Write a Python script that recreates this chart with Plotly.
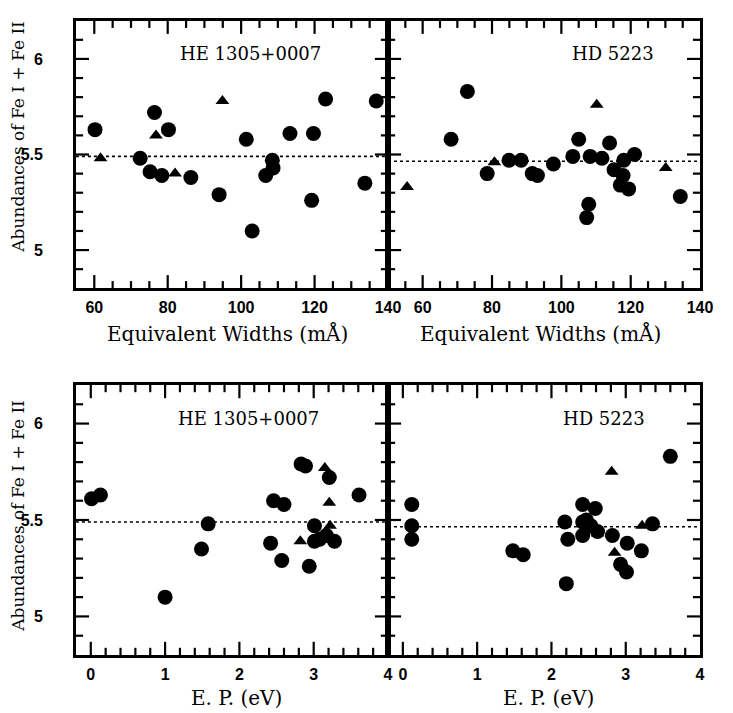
import numpy as np
import plotly.graph_objects as go

# ---------------- data ----------------
star_names = ["HE 1305+0007", "HD 5223"]
mean_abund = [5.49, 5.465]

he_ew_circ_x = [60.2, 72.5, 75.2, 76.4, 78.4, 80.2, 86.3, 94.0, 101.4, 103.0, 106.7, 108.5, 108.7, 113.3, 119.7, 119.2, 123.0, 133.7, 136.8]
he_ew_circ_y = [5.63, 5.48, 5.41, 5.72, 5.39, 5.63, 5.38, 5.29, 5.58, 5.10, 5.39, 5.47, 5.43, 5.61, 5.61, 5.26, 5.79, 5.35, 5.78]
he_ew_tri_x = [61.7, 76.8, 82.0, 94.9]
he_ew_tri_y = [5.48, 5.60, 5.40, 5.78]

hd_ew_circ_x = [68.2, 72.9, 78.6, 84.9, 88.4, 91.6, 93.1, 97.7, 103.3, 105.0, 107.3, 107.9, 108.3, 111.7, 113.9, 115.2, 118.0, 117.8, 117.0, 119.4, 121.1, 134.3]
hd_ew_circ_y = [5.58, 5.83, 5.40, 5.47, 5.47, 5.40, 5.39, 5.45, 5.49, 5.58, 5.17, 5.24, 5.49, 5.48, 5.56, 5.42, 5.47, 5.39, 5.34, 5.32, 5.50, 5.28]
hd_ew_tri_x = [55.5, 80.7, 110.2, 130.1]
hd_ew_tri_y = [5.33, 5.46, 5.76, 5.43]

he_ep_circ_x = [0.01, 0.13, 1.00, 1.49, 1.58, 2.42, 2.46, 2.57, 2.60, 2.83, 2.89, 2.94, 3.01, 3.01, 3.08, 3.21, 3.17, 3.28, 3.61]
he_ep_circ_y = [5.61, 5.63, 5.10, 5.35, 5.48, 5.38, 5.60, 5.29, 5.58, 5.79, 5.78, 5.26, 5.47, 5.39, 5.40, 5.72, 5.42, 5.39, 5.63]
he_ep_tri_x = [2.82, 3.15, 3.21, 3.22]
he_ep_tri_y = [5.39, 5.77, 5.59, 5.47]

hd_ep_circ_x = [0.12, 0.12, 0.12, 1.48, 1.62, 2.18, 2.22, 2.20, 2.42, 2.42, 2.47, 2.42, 2.59, 2.53, 2.62, 2.82, 3.02, 2.93, 3.01, 3.21, 3.36, 3.60]
hd_ep_circ_y = [5.58, 5.47, 5.40, 5.34, 5.32, 5.49, 5.40, 5.17, 5.58, 5.49, 5.50, 5.42, 5.56, 5.47, 5.44, 5.42, 5.38, 5.27, 5.23, 5.34, 5.48, 5.83]
hd_ep_tri_x = [2.62, 2.81, 2.85, 3.22]
hd_ep_tri_y = [5.43, 5.75, 5.33, 5.47]

ew_ticks = [60, 80, 100, 120, 140]
ep_ticks = [0, 1, 2, 3, 4]
y_ticks = [5, 5.5, 6]
ew_minor_step = 5
ep_minor_step = 0.2
y_minor_step = 0.1
ew_title = "Equivalent Widths (mÅ)"
ep_title = "E. P. (eV)"
y_title = "Abundances of Fe I + Fe II"

W, H = 733, 713
fig = go.Figure()


def px_x(p):
    return p / W


def px_y(p):
    return (H - p) / H


left_dom = [px_x(77.3), px_x(395)]
right_dom = [px_x(395), px_x(712.7)]
top_dom = [px_y(288.3), px_y(20.7)]
bot_dom = [px_y(655), px_y(385)]
y_range = [4.8, 6.2]

panels = [
    ("", [55, 140], ew_ticks, ew_minor_step, left_dom, top_dom, he_ew_tri_x, he_ew_tri_y, he_ew_circ_x, he_ew_circ_y, 0, True),
    ("2", [50, 140], ew_ticks, ew_minor_step, right_dom, top_dom, hd_ew_tri_x, hd_ew_tri_y, hd_ew_circ_x, hd_ew_circ_y, 1, False),
    ("3", [-0.2, 4], ep_ticks, ep_minor_step, left_dom, bot_dom, he_ep_tri_x, he_ep_tri_y, he_ep_circ_x, he_ep_circ_y, 0, True),
    ("4", [-0.2, 4], ep_ticks, ep_minor_step, right_dom, bot_dom, hd_ep_tri_x, hd_ep_tri_y, hd_ep_circ_x, hd_ep_circ_y, 1, False),
]

tickfont = dict(family="Liberation Sans", size=16, color="black", weight=700)
MAJ, MIN, TW = 11, 6, 2.2


def minor_vals(lo, hi, step, majors):
    vals = np.arange(np.ceil(lo / step - 1e-9) * step, hi + 1e-9, step)
    out = []
    for v in vals:
        v = round(float(v), 6)
        if v <= lo + 1e-9 or v >= hi - 1e-9:
            continue
        if any(abs(v - m) < 1e-6 for m in majors):
            continue
        out.append(v)
    return out


layout_axes = {}
for suf, xr, xt, xstep, xdom, ydom, tx, ty, cx, cy, si, ylab in panels:
    xa, ya = "x" + suf, "y" + suf
    pw = (xdom[1] - xdom[0]) * W
    ph = (ydom[1] - ydom[0]) * H
    xspan = xr[1] - xr[0]
    yspan = y_range[1] - y_range[0]

    # tick marks as line-shaped markers, positioned through the axes' own scales
    for vals, ln in [([v for v in xt if xr[0] < v < xr[1]], MAJ), (minor_vals(xr[0], xr[1], xstep, xt), MIN)]:
        half = ln / 2 / ph * yspan
        xs = vals + vals
        ys = [y_range[0] + half] * len(vals) + [y_range[1] - half] * len(vals)
        fig.add_trace(go.Scatter(x=xs, y=ys, mode="markers", xaxis=xa, yaxis=ya, cliponaxis=False,
                                 marker=dict(symbol="line-ns", size=ln, color="black",
                                             line=dict(color="black", width=TW)),
                                 showlegend=False, hoverinfo="skip"))
    for vals, ln in [([v for v in y_ticks if y_range[0] < v < y_range[1]], MAJ),
                     (minor_vals(y_range[0], y_range[1], y_minor_step, y_ticks), MIN)]:
        half = ln / 2 / pw * xspan
        ys = vals + vals
        xs = [xr[0] + half] * len(vals) + [xr[1] - half] * len(vals)
        fig.add_trace(go.Scatter(x=xs, y=ys, mode="markers", xaxis=xa, yaxis=ya, cliponaxis=False,
                                 marker=dict(symbol="line-ew", size=ln, color="black",
                                             line=dict(color="black", width=TW)),
                                 showlegend=False, hoverinfo="skip"))

    fig.add_trace(go.Scatter(x=tx, y=ty, mode="markers", xaxis=xa, yaxis=ya,
                             marker=dict(symbol="triangle-up", size=12, color="black", line=dict(width=0)),
                             showlegend=False, hoverinfo="skip"))
    fig.add_trace(go.Scatter(x=cx, y=cy, mode="markers", xaxis=xa, yaxis=ya,
                             marker=dict(symbol="circle", size=15, color="black", line=dict(width=0)),
                             showlegend=False, hoverinfo="skip"))
    fig.add_shape(type="line", xref=xa + " domain", yref=ya,
                  x0=0, x1=1, y0=mean_abund[si], y1=mean_abund[si],
                  line=dict(color="black", width=1.6, dash="dot"))

    layout_axes["xaxis" + suf] = dict(domain=xdom, range=xr, anchor=ya, tickmode="array", tickvals=xt,
                                      ticktext=[str(v) for v in xt], showline=True, linecolor="black",
                                      linewidth=2.5, mirror=True, ticks="", showgrid=False, zeroline=False,
                                      tickfont=tickfont, ticklabelstandoff=3)
    layout_axes["yaxis" + suf] = dict(domain=ydom, range=y_range, anchor=xa, tickmode="array",
                                      tickvals=y_ticks, ticktext=[("%g" % v) for v in y_ticks],
                                      showticklabels=ylab, showline=True, linecolor="black",
                                      linewidth=2.5, mirror=True, ticks="", showgrid=False,
                                      zeroline=False, tickfont=tickfont, ticklabelstandoff=27)

fig.update_layout(width=W, height=H, margin=dict(l=0, r=0, t=0, b=0),
                  paper_bgcolor="white", plot_bgcolor="white", **layout_axes)

label_font = dict(family="DejaVu Serif", size=18, color="black")
title_font = dict(family="DejaVu Serif", size=20, color="black")
ytfont = dict(family="DejaVu Serif", size=17, color="black")

for x, y, t in [(255, 53, star_names[0]), (624, 53, star_names[1]),
                (253, 418, star_names[0]), (615, 418, star_names[1])]:
    fig.add_annotation(xref="paper", yref="paper", x=px_x(x), y=px_y(y), text=t, showarrow=False,
                       xanchor="center", yanchor="middle", font=label_font)

for x, y, t in [(232, 333, ew_title), (550, 333, ew_title), (241, 698, ep_title), (558, 698, ep_title)]:
    fig.add_annotation(xref="paper", yref="paper", x=px_x(x), y=px_y(y), text=t, showarrow=False,
                       xanchor="center", yanchor="middle", font=title_font)

for yc in [137, 516]:
    fig.add_annotation(xref="paper", yref="paper", x=px_x(18), y=px_y(yc), text=y_title,
                       textangle=-90, showarrow=False, xanchor="center", yanchor="middle",
                       font=ytfont)

fig.write_html("out.html", config={"displayModeBar": False},
               post_script="document.body.style.margin='0';document.body.style.overflow='hidden';")
